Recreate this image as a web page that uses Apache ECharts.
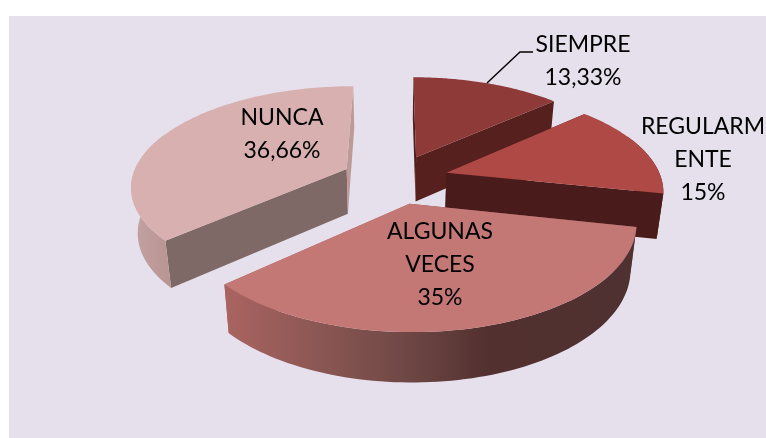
<!DOCTYPE html>
<html><head><meta charset="utf-8">
<style>html,body{margin:0;padding:0;background:#fff}#c{width:766px;height:438px}</style>
<script src="https://cdn.jsdelivr.net/npm/echarts@6/dist/echarts.min.js"></script>
</head><body><div id="c"></div>
<script>
// data
var categories = ['SIEMPRE', 'REGULARMENTE', 'ALGUNAS VECES', 'NUNCA'];
var values = [13.33, 15, 35, 36.66];
var displayNames = ['SIEMPRE', 'REGULARM\nENTE', 'ALGUNAS\nVECES', 'NUNCA'];

// styles
var topColors = ['#8e3a38', '#ae4945', '#c47876', '#d9b0b0'];
var startFace = ['#4f1e1c', '#4a1b1b', '#7a4c4a', '#7f6966'];
var endFace = ['#55201e', '#4a1b1b', '#a8625f', '#bd9a98'];
var arcStops = [
  [[0, '#55201e'], [1, '#55201e']],
  [[0, '#4a1b1b'], [1, '#4a1b1b']],
  [[0, '#aa6461'], [0.22, '#8c5754'], [0.44, '#6f4845'], [0.64, '#52302f'], [1, '#4f3131']],
  [[0, '#c4a3a2'], [1, '#b89493']]
];
var drawOrder = [0, 1, 3, 2];
var labelCenters = [[583, 45], [703, 127], [440, 232], [282, 118]];
var lineGap = 32.8;
var leader = [[487, 83], [520, 52], [533, 52]];

// projection of the disc plane
var view = { cx: 395, cy: 179, a: 215, b: 99, k: 0.159, explode: 0.25, depth: 45, shrink: 0.975, dropSlope: 0.035 };

function project(u, v) {
  var d = 1 + view.k * v;
  return [view.cx + view.a * u / d, view.cy - view.b * v / d];
}
function below(p) {
  return [view.cx + (p[0] - view.cx) * view.shrink, p[1] + view.depth + (p[1] - view.cy) * view.dropSlope];
}
var total = values.reduce(function (s, v) { return s + v; }, 0);

function renderSlice(params, api) {
  var i = params.dataIndex;
  var cum = 0;
  for (var j = 0; j < i; j++) cum += values[j];
  var t0 = cum / total * Math.PI * 2;
  var t1 = (cum + api.value(0)) / total * Math.PI * 2;
  var mid = (t0 + t1) / 2;
  var ou = view.explode * Math.sin(mid), ov = view.explode * Math.cos(mid);
  var apex = project(ou, ov);
  var arc = [], n = 80, front = [];
  for (var s = 0; s <= n; s++) {
    var t = t0 + (t1 - t0) * s / n;
    var p = project(ou + Math.sin(t), ov + Math.cos(t));
    arc.push(p);
    if (Math.cos(t) < 0.4) front.push(p);
  }
  var z = drawOrder.indexOf(i) * 10;
  var kids = [];
  function poly(points, fill, zz) {
    kids.push({ type: 'polygon', shape: { points: points }, style: { fill: fill, stroke: null }, z2: z + zz });
  }
  var a0 = arc[0], a1 = arc[n];
  poly([apex, a0, below(a0), below(apex)], startFace[i], 1);
  poly([apex, a1, below(a1), below(apex)], endFace[i], 2);
  if (front.length > 1) {
    var side = front.concat(front.slice().reverse().map(below));
    poly(side, new echarts.graphic.LinearGradient(0, 0, 1, 0, arcStops[i].map(function (c) {
      return { offset: c[0], color: c[1] };
    })), 3);
  }
  poly([apex].concat(arc), topColors[i], 4);

  var lines = displayNames[i].split('\n');
  lines.push(String(api.value(0)).replace('.', ',') + '%');
  lines.forEach(function (txt, li) {
    kids.push({ type: 'text', z2: 100, style: {
      x: labelCenters[i][0], y: labelCenters[i][1] + li * lineGap, text: txt,
      fill: '#000', align: 'center', verticalAlign: 'middle',
      font: '23px Lato, "Open Sans", sans-serif'
    } });
  });
  if (i === 0) {
    kids.push({ type: 'polyline', z2: 100, shape: { points: leader }, style: { stroke: '#000', lineWidth: 1.4, fill: null } });
  }
  return { type: 'group', children: kids };
}

var chart = echarts.init(document.getElementById('c'), null, { renderer: 'canvas' });
chart.setOption({
  animation: false,
  backgroundColor: '#ffffff',
  graphic: [{ type: 'rect', z: -10, silent: true, shape: { x: 9, y: 16, width: 757, height: 422 }, style: { fill: '#e5e0ec' } }],
  series: [{
    type: 'custom',
    coordinateSystem: 'none',
    renderItem: renderSlice,
    data: values.map(function (v, i) { return { name: categories[i], value: [v] }; }),
    silent: true
  }]
});
</script></body></html>
